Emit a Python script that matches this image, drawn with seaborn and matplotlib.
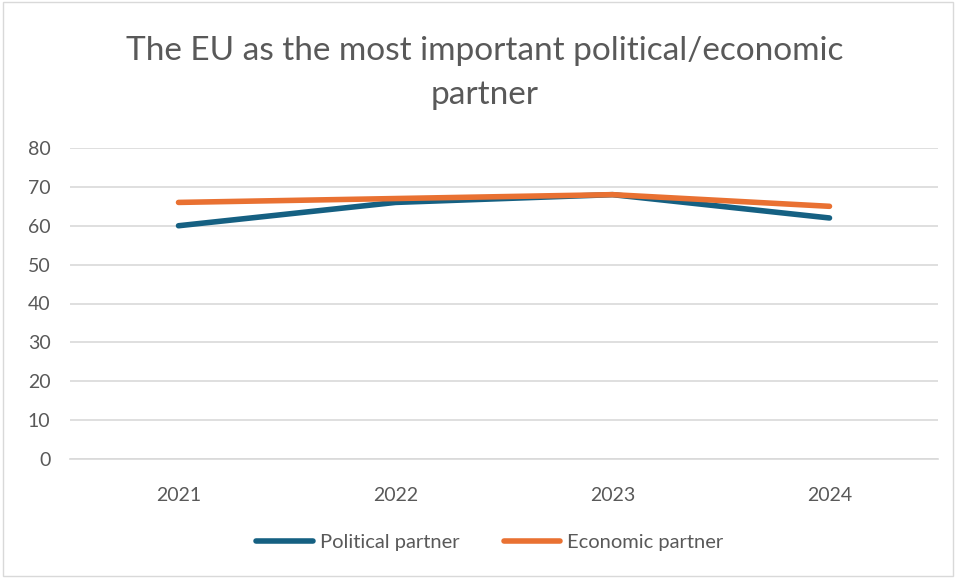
import matplotlib
matplotlib.use("Agg")
import matplotlib.pyplot as plt
import seaborn as sns
import pandas as pd

years = ["2021", "2022", "2023", "2024"]
political = [60, 66, 68, 62]
economic = [66, 67, 68, 65]
series_names = ["Political partner", "Economic partner"]
colors = ["#156082", "#E97132"]
yticks = [0, 10, 20, 30, 40, 50, 60, 70, 80]

df = pd.DataFrame({
    "Year": years * 2,
    "Value": political + economic,
    "Series": [series_names[0]] * 4 + [series_names[1]] * 4,
})

sns.set_theme(style="white")
plt.rcParams["font.family"] = ["Lato", "DejaVu Sans"]

fig = plt.figure(figsize=(9.56, 5.78), dpi=100)
ax = fig.add_axes([70 / 956, 1 - 459 / 578, 868 / 956, 311 / 578])

sns.lineplot(data=df, x="Year", y="Value", hue="Series", palette=colors,
             linewidth=4.0, ax=ax, sort=False, legend=True)
for line in ax.get_lines():
    line.set_solid_capstyle("round")

ax.set_ylim(0, 80)
ax.set_xlim(-0.5, 3.5)
ax.set_yticks(yticks)
ax.yaxis.grid(True, color="#D9D9D9", linewidth=1.2)
ax.set_axisbelow(True)
for s in ["top", "right", "left"]:
    ax.spines[s].set_visible(False)
ax.spines["bottom"].set_color("#D9D9D9")
ax.spines["bottom"].set_linewidth(1.2)
ax.tick_params(axis="both", length=0, labelsize=14, colors="#595959")
ax.tick_params(axis="y", pad=14)
ax.tick_params(axis="x", pad=20)
ax.set_xlabel("")
ax.set_ylabel("")

fig.text(0.507, 1 - 73 / 578, "The EU as the most important political/economic\npartner",
         ha="center", va="center", fontsize=24, color="#595959", linespacing=1.6)

handles, labels = ax.get_legend_handles_labels()
for h in handles:
    h.set_linewidth(4.0)
    h.set_solid_capstyle("round")
ax.legend(handles, labels, loc="center", bbox_to_anchor=(490 / 956, 1 - 542 / 578),
          bbox_transform=fig.transFigure, ncol=2, frameon=False, fontsize=14.5,
          labelcolor="#595959", handlelength=2.8, handletextpad=0.35, columnspacing=2.2)

border = plt.Rectangle((0.003, 0.003), 0.994, 0.994, transform=fig.transFigure,
                       fill=False, edgecolor="#D9D9D9", linewidth=1)
fig.patches.append(border)

fig.savefig("out.png", dpi=100)
